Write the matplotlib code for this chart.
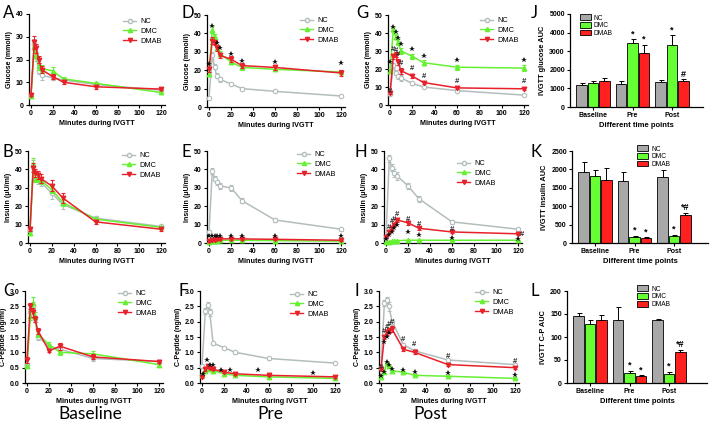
"""IVGTT glucose / insulin / C-peptide figure."""

import matplotlib
matplotlib.use("Agg")
import matplotlib.pyplot as plt
from matplotlib.patches import Patch
from matplotlib.lines import Line2D

W, H = 716, 426
DPI = 100

TIMES = [0, 3, 5, 7, 10, 20, 30, 60, 120]
GROUPS = ["NC", "DMC", "DMAB"]
PERIODS = ["Baseline", "Pre", "Post"]

# glucose (mmol/l), rows NC / DMC / DMAB
GLU_BASE = [[4.5, 27, 21, 15, 13, 12, 11, 9, 6.5],
            [4, 26, 22, 17, 16, 15, 11.5, 9.5, 5.5],
            [4.5, 27.5, 25, 20, 15.5, 12.5, 10, 8, 7]]
GLU_BASE_ERR = [[0.5, 2, 1.5, 1.5, 2, 1, 0.8, 0.8, 0.5],
                [0.5, 2, 1.5, 1.5, 1.5, 1.5, 0.8, 0.8, 0.5],
                [0.5, 2.8, 2, 1.5, 1.5, 1, 0.8, 0.8, 0.5]]
GLU_PRE = [[5, 28, 22, 17, 15, 12.5, 10, 8.5, 6],
           [18, 42, 38, 32, 29, 24.5, 21.5, 20.5, 19],
           [20.5, 36, 35, 32, 28, 26, 22.5, 21.5, 18.5]]
GLU_PRE_ERR = [[0.5, 2, 1.5, 1.5, 1.5, 0.8, 0.6, 0.6, 0.5],
               [1, 2, 1.5, 1.5, 1.5, 1.2, 1.2, 1.2, 1.2],
               [1.5, 2, 1.5, 1.5, 1.5, 1.5, 1.5, 1.5, 1.5]]
GLU_POST = [[6, 22, 18, 16, 15, 12, 10, 8, 5.5],
            [19, 42, 38, 35, 30, 27, 23.5, 21, 20.5],
            [6.5, 27, 28, 24, 19, 16, 12.5, 9.5, 9]]
GLU_POST_ERR = [[0.5, 1.5, 1.5, 1.5, 1.5, 1, 0.7, 0.6, 0.5],
                [1, 1.5, 1.5, 1.5, 1.5, 1.5, 1.5, 1.5, 1.5],
                [0.5, 1.5, 1.5, 1.5, 1.5, 1.2, 1, 0.8, 0.8]]

# insulin (uU/ml)
INS_BASE = [[7, 42, 35, 34, 33, 27, 21, 13.5, 9],
            [5.5, 43, 35, 35, 34, 29, 22, 13, 8.5],
            [7.5, 41, 38, 37, 35, 31, 24.5, 11.5, 7.5]]
INS_BASE_ERR = [[1, 3, 2, 2, 2, 3, 2.5, 1, 0.8],
                [1, 3, 2, 2, 2, 2, 2, 1, 0.8],
                [1, 2.5, 2, 2, 2.5, 3, 2.5, 1, 0.8]]
INS_PRE = [[6, 39, 35, 33, 31, 30, 23, 12.5, 7.5],
           [0.5, 1, 1, 1.3, 1.5, 1.5, 1.5, 1.3, 1],
           [1, 1.5, 1.8, 2, 2.2, 2.3, 2.2, 2, 1.5]]
INS_PRE_ERR = [[0.8, 1.5, 1.5, 1.5, 1.5, 1.5, 1.2, 1, 0.8],
               [0.3, 0.3, 0.3, 0.3, 0.3, 0.3, 0.3, 0.3, 0.3],
               [0.4, 0.4, 0.4, 0.4, 0.4, 0.4, 0.4, 0.4, 0.4]]
INS_POST = [[3, 46, 41, 38, 36.5, 31, 24, 11.5, 7.5],
            [0.5, 0.8, 1, 1.2, 1.3, 1.5, 1.5, 1.5, 1.5],
            [3, 6, 8, 10, 12.5, 11, 8, 6, 5]]
INS_POST_ERR = [[1, 2, 2, 2, 2, 1.5, 1.5, 1, 0.8],
                [0.3, 0.3, 0.3, 0.3, 0.3, 0.3, 0.3, 0.3, 0.3],
                [0.5, 0.8, 1, 1, 1.2, 1, 0.8, 0.8, 0.6]]

# C-peptide (ng/ml)
CP_BASE = [[0.6, 2.3, 2.5, 2.1, 1.5, 1.2, 1.1, 0.8, 0.7],
           [0.55, 2.2, 2.6, 2.2, 1.6, 1.25, 1.0, 0.95, 0.6],
           [0.75, 2.5, 2.3, 2.1, 1.7, 1.05, 1.2, 0.85, 0.7]]
CP_BASE_ERR = [[0.05, 0.15, 0.15, 0.1, 0.1, 0.08, 0.08, 0.08, 0.05],
               [0.05, 0.15, 0.2, 0.1, 0.1, 0.08, 0.08, 0.1, 0.05],
               [0.1, 0.1, 0.15, 0.1, 0.1, 0.05, 0.12, 0.08, 0.05]]
CP_PRE = [[0.55, 2.35, 2.55, 2.3, 1.3, 1.15, 1.0, 0.8, 0.65],
          [0.25, 0.4, 0.5, 0.45, 0.4, 0.3, 0.25, 0.2, 0.15],
          [0.2, 0.45, 0.55, 0.5, 0.45, 0.35, 0.3, 0.25, 0.2]]
CP_PRE_ERR = [[0.05, 0.1, 0.1, 0.1, 0.05, 0.04, 0.04, 0.04, 0.04],
              [0.03, 0.04, 0.05, 0.04, 0.04, 0.03, 0.03, 0.03, 0.03],
              [0.03, 0.05, 0.05, 0.05, 0.04, 0.03, 0.03, 0.03, 0.03]]
CP_POST = [[0.5, 2.6, 2.7, 2.5, 2.0, 1.25, 1.05, 0.75, 0.6],
           [0.2, 0.35, 0.65, 0.55, 0.4, 0.35, 0.25, 0.22, 0.15],
           [0.45, 1.5, 1.65, 1.7, 1.75, 1.1, 1.0, 0.6, 0.5]]
CP_POST_ERR = [[0.05, 0.1, 0.1, 0.15, 0.1, 0.05, 0.05, 0.04, 0.04],
               [0.03, 0.04, 0.05, 0.05, 0.04, 0.04, 0.03, 0.03, 0.03],
               [0.05, 0.08, 0.08, 0.08, 0.1, 0.06, 0.05, 0.04, 0.04]]

# significance marks (x, y)
D_STAR = ([0, 3, 7, 10, 20, 30, 60, 120], [23.5, 44, 35, 32, 29, 25, 24.5, 24])
G_STAR = ([0, 3, 5, 7, 10, 20, 30, 60, 120], [24, 43.5, 40.5, 37, 34, 31, 27.5, 25, 25])
G_HASH = ([0, 3, 5, 7, 10, 20, 30, 60, 120], [7.5, 31, 30.5, 28, 23, 20, 16, 13, 13])
E_STAR = ([0, 3, 5, 7, 10, 20, 30, 60, 120], [3.6, 3.6, 3.6, 3.8, 3.8, 3.8, 3.8, 3.8, 3.8])
H_STAR = ([0, 3, 5, 7, 10, 20, 30, 60, 120], [2.2, 4.5, 6, 8, 10, 5.8, 4.5, 2.7, 2.3])
H_HASH = ([3, 5, 7, 10, 20, 30, 60, 124], [8.5, 11.7, 12.6, 15.3, 13, 10.3, 7.6, 4.5])
F_STAR = ([1, 4.5, 7.5, 10, 17.5, 25, 50.5, 100], [0.3, 0.74, 0.58, 0.58, 0.44, 0.41, 0.41, 0.33])
I_STAR = ([0, 3, 5, 7, 10, 20, 30, 60, 120, 3, 5, 7],
          [0.22, 0.35, 0.68, 0.58, 0.46, 0.42, 0.35, 0.31, 0.26, 1.35, 1.5, 1.62])
I_HASH = ([0, 3, 5, 7, 10, 20, 30, 60, 120], [0.5, 1.68, 1.82, 1.9, 1.98, 1.43, 1.26, 0.86, 0.7])

# AUC bars, rows NC / DMC / DMAB, columns Baseline / Pre / Post
AUC_GLU = [[1200, 1230, 1320], [1300, 3420, 3350], [1380, 2900, 1380]]
AUC_GLU_ERR = [[100, 150, 130], [100, 220, 500], [170, 450, 100]]
AUC_GLU_MARK = [["", "", ""], ["", "*", "*"], ["", "*", "#"]]
AUC_INS = [[1920, 1690, 1790], [1820, 170, 180], [1720, 130, 750]]
AUC_INS_ERR = [[270, 250, 190], [160, 30, 50], [320, 20, 70]]
AUC_INS_MARK = [["", "", ""], ["", "*", "*"], ["", "*", "*#"]]
AUC_CP = [[145, 136, 136], [129, 22, 20], [136, 15, 67]]
AUC_CP_ERR = [[8, 30, 4], [7, 5, 4], [12, 2, 5]]
AUC_CP_MARK = [["", "", ""], ["", "*", "*"], ["", "*", "*#"]]

LINE_COLORS = ["#b3bdbd", "#66f032", "#e8202a"]
BAR_COLORS = ["#a8a8a8", "#66ff33", "#ff2020"]
MARKERS = ["o", "^", "v"]
FONT = "Liberation Sans"

plt.rcParams["font.family"] = FONT


def px_axes(fig, left, right, top, bottom):
    """Axes from pixel edges (top-left origin)."""
    return fig.add_axes([left / W, 1 - bottom / H, (right - left) / W, (bottom - top) / H])


def style_axes(ax):
    for s in ("top", "right"):
        ax.spines[s].set_visible(False)
    for s in ("left", "bottom"):
        ax.spines[s].set_linewidth(0.9)
    ax.tick_params(length=2.2, width=0.8, labelsize=5, pad=1.5)
    for lab in ax.get_xticklabels() + ax.get_yticklabels():
        lab.set_fontweight("bold")


def line_panel(fig, box, means, errs, ymax, ylabel, legend_at):
    x0, x120, ytop, y0 = box
    ppu = (x120 - x0) / 120.0
    ax = px_axes(fig, x0 - 2 * ppu, x120 + 4 * ppu, ytop, y0)
    for i in range(3):
        ax.errorbar(TIMES, means[i], yerr=errs[i], color=LINE_COLORS[i], marker=MARKERS[i],
                    ms=3.2 if i == 0 else 3.4, mfc="white" if i == 0 else LINE_COLORS[i],
                    mew=0.8, lw=1.1, elinewidth=0.7, capsize=1.3, capthick=0.7,
                    clip_on=False, zorder=3 + i)
    ax.set_xlim(-2, 124)
    ax.set_ylim(0, ymax)
    ax.set_xticks([0, 20, 40, 60, 80, 100, 120])
    ax.set_xlabel("Minutes during IVGTT", fontsize=5.2, fontweight="bold", labelpad=2)
    ax.set_ylabel(ylabel, fontsize=5, fontweight="bold", labelpad=2)
    style_axes(ax)
    handles = [Line2D([], [], color=LINE_COLORS[i], marker=MARKERS[i], ms=3,
                      mfc="white" if i == 0 else LINE_COLORS[i], lw=1.0) for i in range(3)]
    hx, hy = legend_at
    ax.legend(handles, GROUPS, loc="upper left", bbox_to_anchor=(hx / W, 1 - (hy - 4) / H),
              bbox_transform=fig.transFigure, frameon=False, fontsize=5.3, borderpad=0,
              borderaxespad=0, handlelength=1.8, handletextpad=0.6, labelspacing=0.35)
    return ax


def marks(ax, stars=None, hashes=None):
    if stars:
        ax.plot(stars[0], stars[1], ls="none", marker="*", color="#111111", ms=4,
                mew=0, clip_on=False, zorder=10)
    if hashes:
        for x, y in zip(*hashes):
            ax.text(x, y, "#", fontsize=5.5, fontweight="bold", color="#2a2a2a",
                    ha="center", va="center", zorder=10, clip_on=False)


def bar_panel(fig, box, vals, errs, mark, ymax, ystep, ylabel, legend_at):
    left, right, top, bottom = box
    unit = 39.5
    xl = -23 / unit
    ax = px_axes(fig, left, right, top, bottom)
    width = 0.29
    for i in range(3):
        xs = [p + (i - 1) * width for p in range(3)]
        ax.bar(xs, vals[i], width=width * 0.94, color=BAR_COLORS[i], edgecolor="black",
               linewidth=0.6, zorder=2)
        ax.errorbar(xs, vals[i], yerr=[[0] * 3, errs[i]], fmt="none", ecolor="black",
                    elinewidth=0.7, capsize=1.8, capthick=0.7, zorder=1)
        for x, v, e, m in zip(xs, vals[i], errs[i], mark[i]):
            if m:
                ax.text(x, v + e + ymax * 0.01, m, fontsize=6.5, fontweight="bold",
                        ha="center", va="bottom")
    ax.set_xlim(xl, xl + (right - left) / unit)
    ax.set_ylim(0, ymax)
    ax.set_yticks(range(0, ymax + 1, ystep))
    ax.set_xticks(range(3))
    ax.set_xticklabels(PERIODS)
    ax.tick_params(axis="x", length=0)
    ax.set_xlabel("Different time points", fontsize=5.5, fontweight="bold", labelpad=2)
    ax.set_ylabel(ylabel, fontsize=5.3, fontweight="bold", labelpad=2)
    style_axes(ax)
    handles = [Patch(facecolor=BAR_COLORS[i], edgecolor="black", linewidth=0.6) for i in range(3)]
    hx, hy = legend_at
    ax.legend(handles, GROUPS, loc="upper left", bbox_to_anchor=(hx / W, 1 - (hy - 3.5) / H),
              bbox_transform=fig.transFigure, frameon=False, fontsize=4.8, borderpad=0,
              borderaxespad=0, handlelength=1.6, handleheight=0.9, handletextpad=0.5,
              labelspacing=0.1)
    return ax


fig = plt.figure(figsize=(W / DPI, H / DPI), dpi=DPI)

glu = "Glucose (mmol/l)"
ins = "Insulin (\u03bcU/ml)"
cp = "C-Peptide (ng/ml)"

line_panel(fig, (31, 161, 14, 105), GLU_BASE, GLU_BASE_ERR, 40, glu, (123, 22))
ax = line_panel(fig, (209, 341, 15, 107), GLU_PRE, GLU_PRE_ERR, 50, glu, (300, 21))
marks(ax, D_STAR)
ax = line_panel(fig, (390, 524, 15, 105), GLU_POST, GLU_POST_ERR, 50, glu, (480, 21))
marks(ax, G_STAR, G_HASH)

line_panel(fig, (30, 161, 151, 243), INS_BASE, INS_BASE_ERR, 50, ins, (122, 156))
ax = line_panel(fig, (209, 341, 151, 243), INS_PRE, INS_PRE_ERR, 50, ins, (297, 155))
marks(ax, E_STAR)
ax = line_panel(fig, (386, 518, 151, 243), INS_POST, INS_POST_ERR, 50, ins, (457, 164))
marks(ax, H_STAR, H_HASH)

line_panel(fig, (27, 159, 291, 383), CP_BASE, CP_BASE_ERR, 3, cp, (118, 294))
ax = line_panel(fig, (202, 335, 291, 383), CP_PRE, CP_PRE_ERR, 3, cp, (290, 295))
marks(ax, F_STAR)
ax = line_panel(fig, (381, 515, 291, 383), CP_POST, CP_POST_ERR, 3, cp, (475, 293))
marks(ax, I_STAR, I_HASH)

bar_panel(fig, (570, 703, 14, 107), AUC_GLU, AUC_GLU_ERR, AUC_GLU_MARK, 5000, 1000,
          "IVGTT glucose AUC", (580, 18))
bar_panel(fig, (572, 708, 151, 243), AUC_INS, AUC_INS_ERR, AUC_INS_MARK, 2500, 500,
          "IVGTT insulin AUC", (637, 149))
bar_panel(fig, (567, 707, 291, 383), AUC_CP, AUC_CP_ERR, AUC_CP_MARK, 200, 50,
          "IVGTT C-P AUC", (637, 289))

# panel letters
letters = [("A", 3, 5), ("D", 181, 5), ("G", 356, 5), ("J", 531, 5),
           ("B", 3, 144), ("E", 181, 144), ("H", 355, 144), ("K", 531, 144),
           ("C", 3, 283), ("F", 179, 283), ("I", 355, 283), ("L", 530, 283)]
for s, x, y in letters:
    fig.text(x / W, 1 - y / H, s, fontsize=12, family="Lato", va="top", ha="left")

for s, x in [("Baseline", 90), ("Pre", 270), ("Post", 430)]:
    fig.text(x / W, 1 - 414 / H, s, fontsize=12.5, family="Lato", ha="center", va="center")

fig.savefig("out.png", dpi=DPI)
